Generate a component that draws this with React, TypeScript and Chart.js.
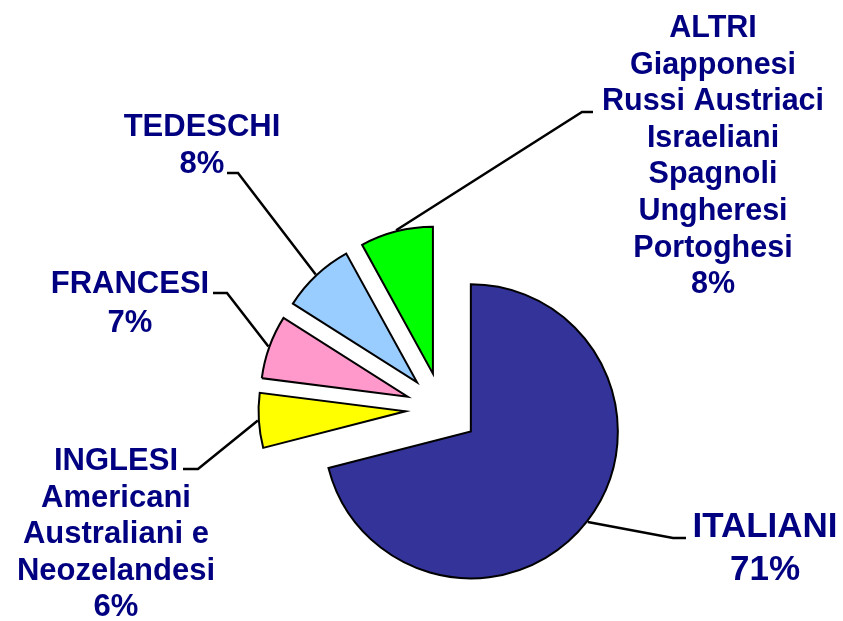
import React, { useEffect, useRef } from "react";
import { Chart, registerables } from "chart.js";

Chart.register(...registerables);

// ---- data ----
const categories = ["ITALIANI", "INGLESI", "FRANCESI", "TEDESCHI", "ALTRI"];
const shares = [71, 6, 7, 8, 8];
const subLabels = [
  [],
  ["Americani", "Australiani e", "Neozelandesi"],
  [],
  [],
  ["Giapponesi", "Russi Austriaci", "Israeliani", "Spagnoli", "Ungheresi", "Portoghesi"],
];
const sliceColors = ["#333399", "#ffff00", "#ff99cc", "#99ccff", "#00ff00"];

// ---- layout (styling only) ----
const R = 147;
const EXPLODE = 36.5;
const labelLayout = [
  { cx: 765, y: 537, lh: 43, size: 35, elbow: [673, 538], end: [686, 538] },
  { cx: 116, y: 470, lh: 36.5, size: 31, elbow: [198, 469], end: [183, 469] },
  { cx: 130, y: 293, lh: 39, size: 31, elbow: [227, 293], end: [213, 293] },
  { cx: 202, y: 136, lh: 37, size: 31, elbow: [238, 173], end: [227, 173] },
  { cx: 713, y: 37, lh: 36.6, size: 30.5, elbow: [582, 112], end: [593, 112] },
];

// explode every slice outward along its bisector
const explodePlugin = {
  id: "explode",
  beforeDatasetsDraw(chart: any) {
    const a = chart.chartArea;
    const cx = (a.left + a.right) / 2;
    const cy = (a.top + a.bottom) / 2;
    const meta = chart.getDatasetMeta(0);
    meta.data.forEach((arc: any) => {
      const mid = (arc.startAngle + arc.endAngle) / 2;
      arc.x = cx + Math.cos(mid) * EXPLODE;
      arc.y = cy + Math.sin(mid) * EXPLODE;
      arc.outerRadius = R;
    });
  },
};

const labelsPlugin = {
  id: "sliceLabels",
  afterDatasetsDraw(chart: any) {
    const ctx = chart.ctx;
    const meta = chart.getDatasetMeta(0);
    meta.data.forEach((arc: any, i: number) => {
      const L = labelLayout[i];
      const mid = (arc.startAngle + arc.endAngle) / 2;
      const px = arc.x + Math.cos(mid) * (R + 1);
      const py = arc.y + Math.sin(mid) * (R + 1);
      ctx.save();
      ctx.strokeStyle = "#000";
      ctx.lineWidth = 2.5;
      ctx.lineJoin = "miter";
      ctx.beginPath();
      ctx.moveTo(px, py);
      ctx.lineTo(L.elbow[0], L.elbow[1]);
      ctx.lineTo(L.end[0], L.end[1]);
      ctx.stroke();
      const lines = [categories[i], ...subLabels[i], shares[i] + "%"];
      ctx.fillStyle = "#000080";
      ctx.textAlign = "center";
      ctx.textBaseline = "alphabetic";
      ctx.font = `bold ${L.size}px "Liberation Sans", Arial, sans-serif`;
      lines.forEach((s, k) => ctx.fillText(s, L.cx, L.y + k * L.lh));
      ctx.restore();
    });
  },
};

export default function App() {
  const ref = useRef<HTMLCanvasElement | null>(null);
  useEffect(() => {
    if (!ref.current) return;
    const chart = new Chart(ref.current, {
      type: "pie",
      data: {
        labels: categories,
        datasets: [
          {
            data: shares,
            backgroundColor: sliceColors,
            borderColor: "#000000",
            borderWidth: 2,
            borderJoinStyle: "miter",
            offset: 0,
            clip: false,
          } as any,
        ],
      },
      options: {
        responsive: false,
        animation: false,
        radius: R,
        layout: { padding: { left: 41, right: 0, top: 197, bottom: 0 } },
        plugins: { legend: { display: false }, tooltip: { enabled: false } },
        events: [],
      } as any,
      plugins: [explodePlugin, labelsPlugin],
    });
    return () => chart.destroy();
  }, []);
  return (
    <div style={{ position: "fixed", left: 0, top: 0, width: 843, height: 621, background: "#fff" }}>
      <canvas ref={ref} width={843} height={621} style={{ display: "block" }} />
    </div>
  );
}
